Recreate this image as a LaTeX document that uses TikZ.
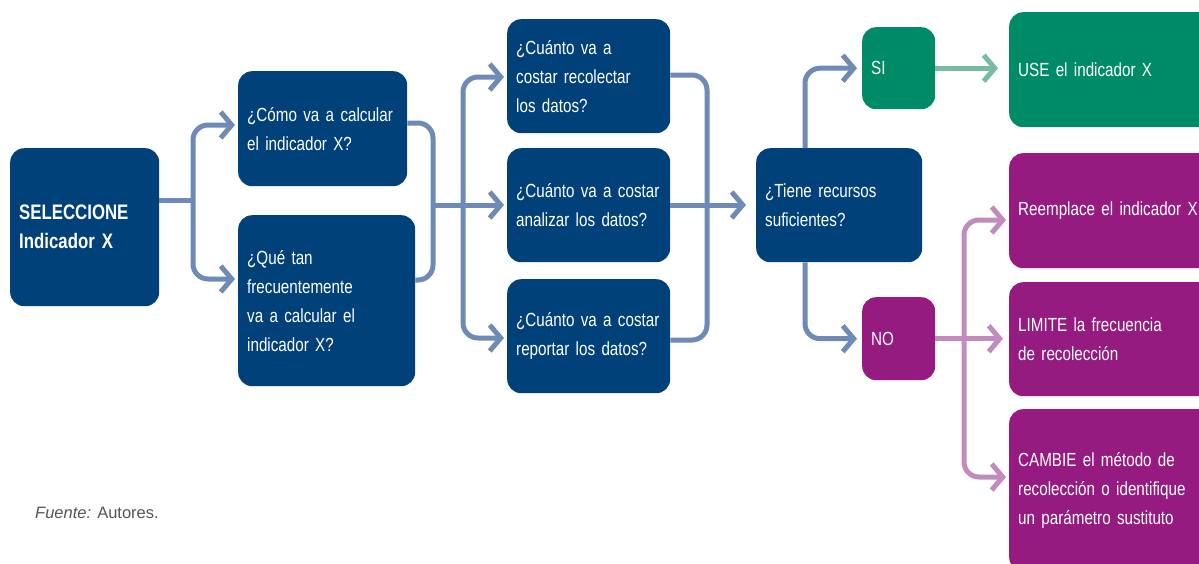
\documentclass[tikz,border=0pt]{standalone}
\usepackage{fontspec}
\setmainfont{Liberation Sans}[FakeStretch=0.8]
\newfontfamily\plainfont{Liberation Sans}
\usetikzlibrary{arrows.meta}
\definecolor{dblue}{RGB}{0,65,122}
\definecolor{lblue}{RGB}{110,138,183}
\definecolor{dgreen}{RGB}{0,139,104}
\definecolor{lgreen}{RGB}{120,187,165}
\definecolor{dpurple}{RGB}{149,27,128}
\definecolor{lpurple}{RGB}{193,139,190}
\definecolor{srcgray}{RGB}{85,85,85}
\newcommand\boxfont{\fontsize{19}{29}\selectfont}
\newcommand\selfont{\fontsize{21}{29}\selectfont\bfseries}
\tikzset{
  box/.style={rounded corners=14pt, inner xsep=9pt, inner ysep=0pt, anchor=north west,
    align=left, text=white, font=\boxfont},
  bluebox/.style={box, fill=dblue},
  greenbox/.style={box, fill=dgreen},
  purplebox/.style={box, fill=dpurple},
  conn/.style={line width=5pt, rounded corners=15pt},
  tip/.style={-{Straight Barb[length=11pt,width=26pt]}},
}
\begin{document}
\begin{tikzpicture}[x=1pt,y=-1pt]
\clip (0,0) rectangle (1199,563);
\fill[white] (0,0) rectangle (1199,563);
% nodes
\node[bluebox, minimum width=149pt, minimum height=158pt, text width=131pt, font=\selfont] (sel) at (10,148) {SELECCIONE\\Indicador X};
\node[bluebox, minimum width=169pt, minimum height=115pt, text width=151pt] (como) at (238,71) {¿Cómo va a calcular\\el indicador X?};
\node[bluebox, minimum width=177pt, minimum height=171pt, text width=159pt] (que) at (238,215) {¿Qué tan\\frecuentemente\\va a calcular el\\indicador X?};
\node[bluebox, minimum width=163pt, minimum height=114pt, text width=145pt] (rec) at (507,19) {¿Cuánto va a\\costar recolectar\\los datos?};
\node[bluebox, minimum width=163pt, minimum height=114pt, text width=145pt] (ana) at (507,148) {¿Cuánto va a costar\\analizar los datos?};
\node[bluebox, minimum width=163pt, minimum height=114pt, text width=145pt] (rep) at (507,279) {¿Cuánto va a costar\\reportar los datos?};
\node[bluebox, minimum width=166pt, minimum height=114pt, text width=148pt] (tiene) at (756,148) {¿Tiene recursos\\suficientes?};
\node[greenbox, minimum width=73pt, minimum height=82pt, text width=55pt] (si) at (862,27) {SI};
\node[purplebox, minimum width=73pt, minimum height=83pt, text width=55pt] (no) at (862,297) {NO};
\node[greenbox, minimum height=115pt, text width=230pt] (use) at (1009,12) {USE el indicador X};
\node[purplebox, minimum height=115pt, text width=230pt] (reem) at (1009,153) {Reemplace el indicador X};
\node[purplebox, minimum height=114pt, text width=230pt] (lim) at (1009,282) {LIMITE la frecuencia\\de recolección};
\node[purplebox, minimum height=162pt, text width=230pt] (cam) at (1009,409) {CAMBIE el método de\\recolección o identifique\\un parámetro sustituto};
% junction coordinates
\coordinate (j1) at (193,200);
\coordinate (j2) at (433,205);
\coordinate (j3) at (463,205);
\coordinate (j4) at (707,205);
\coordinate (j5) at (805,205);
\coordinate (j6) at (964,339);
% connectors stage 1
\draw[conn, lblue] (sel.east |- j1) -- (j1);
\draw[conn, lblue, tip, shorten >=3pt] (j1) |- (como.west |- 0,125);
\draw[conn, lblue, tip, shorten >=3pt] (j1) |- (que.west |- 0,279);
% stage 2
\draw[conn, lblue] (como.east |- 0,123) -| (j2) |- (que.east |- 0,280);
\draw[conn, lblue] (j2) -- (j3);
\draw[conn, lblue, tip, shorten >=3pt] (j3) -- (ana.west |- j3);
\draw[conn, lblue, tip, shorten >=3pt] (j3) |- (rec.west |- 0,77);
\draw[conn, lblue, tip, shorten >=3pt] (j3) |- (rep.west |- 0,338);
% stage 3
\draw[conn, lblue] (rec.east |- 0,75) -| (j4) |- (rep.east |- 0,340);
\draw[conn, lblue, tip, shorten >=10pt] (ana.east |- j4) -- (tiene.west |- j4);
% stage 4
\draw[conn, lblue, tip, shorten >=5pt] (tiene.north -| j5) |- (si.west);
\draw[conn, lblue, tip, shorten >=5pt] (tiene.south -| j5) |- (no.west);
% stage 5
\draw[conn, lgreen, tip, shorten >=11pt] (si.east) -- (use.west |- si.east);
\draw[conn, lpurple, tip, shorten >=6pt] (no.east) -- (lim.west |- no.east);
\draw[conn, lpurple, tip, shorten >=3pt] (j6) |- (reem.west |- 0,220);
\draw[conn, lpurple, tip, shorten >=3pt] (j6) |- (cam.west |- 0,477);
% source
\node[anchor=base west, inner sep=0pt, text=srcgray, font=\plainfont\fontsize{16.5}{20}\selectfont] (src) at (35,518) {\textit{Fuente:} Autores.};
\end{tikzpicture}
\end{document}
